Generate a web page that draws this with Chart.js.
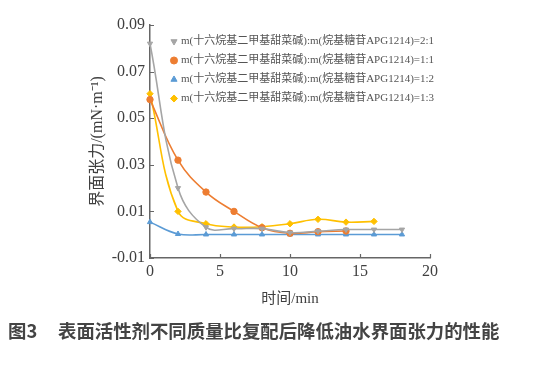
<!DOCTYPE html>
<html>
<head>
<meta charset="utf-8">
<script src="https://cdn.jsdelivr.net/npm/chart.js@4.4.1/dist/chart.umd.min.js"></script>
<style>
  html, body { margin: 0; padding: 0; background: #fff; }
  #wrap { position: relative; width: 533px; height: 368px; overflow: hidden; }
  #caption {
    position: absolute; left: 8px; top: 318px;
    font-family: 'Noto Sans CJK SC', sans-serif; font-size: 18.4px; font-weight: 700;
    color: #444; white-space: nowrap; line-height: 24px;
  }
  #caption .num { display: inline-block; width: 50px; }
</style>
</head>
<body>
<div id="wrap">
  <canvas id="c" width="533" height="368"></canvas>
  <div id="caption"><span class="num">图3</span>表面活性剂不同质量比复配后降低油水界面张力的性能</div>
</div>
<script>
// Sampling times (min)
const timeMin = [0, 2, 4, 6, 8, 10, 12, 14, 16, 18];

// Interfacial tension (mN·m⁻¹) for each mass ratio
const ratio21 = [0.082, 0.020, 0.0032, 0.0026, 0.0026, 0.0009, 0.0015, 0.0022, 0.0022, 0.0022];
const ratio11 = [0.058, 0.032, 0.0183, 0.0100, 0.0030, 0.0006, 0.0013, 0.0016];
const ratio12 = [0.0054, 0.0003, 0.0001, 0.0001, 0.0001, 0.0001, 0.0001, 0.0001, 0.0001, 0.0001];
const ratio13 = [0.0605, 0.0100, 0.0047, 0.0033, 0.0034, 0.0047, 0.0066, 0.0054, 0.0057];

const seriesNames = [
  'm(十六烷基二甲基甜菜碱):m(烷基糖苷APG1214)=2:1',
  'm(十六烷基二甲基甜菜碱):m(烷基糖苷APG1214)=1:1',
  'm(十六烷基二甲基甜菜碱):m(烷基糖苷APG1214)=1:2',
  'm(十六烷基二甲基甜菜碱):m(烷基糖苷APG1214)=1:3'
];

const xTicks = [0, 5, 10, 15, 20];
const yTicks = [-0.01, 0.01, 0.03, 0.05, 0.07, 0.09];

const serif = "'Liberation Serif', 'Noto Sans CJK SC', serif";
const textColor = '#404040';
const axisColor = '#666666';

function toPoints(values) {
  return values.map((v, i) => ({ x: timeMin[i], y: v }));
}

function series(label, values, color, style, rotation, radius) {
  return {
    label,
    data: toPoints(values),
    borderColor: color,
    backgroundColor: color,
    borderWidth: 1.6,
    pointStyle: style,
    pointRotation: rotation,
    pointRadius: radius,
    pointBorderWidth: 1,
    tension: 0.4,
    clip: false
  };
}

// Short tick marks pointing into the plot area
const innerTicks = {
  id: 'innerTicks',
  afterDatasetsDraw(chart) {
    const { ctx, chartArea, scales } = chart;
    ctx.save();
    ctx.strokeStyle = axisColor;
    ctx.lineWidth = 1.2;
    ctx.beginPath();
    yTicks.forEach(v => {
      const y = Math.round(scales.y.getPixelForValue(v)) + 0.5;
      ctx.moveTo(chartArea.left, y);
      ctx.lineTo(chartArea.left + 4, y);
    });
    xTicks.forEach(v => {
      const x = Math.round(scales.x.getPixelForValue(v)) + 0.5;
      ctx.moveTo(x, chartArea.bottom);
      ctx.lineTo(x, chartArea.bottom - 4);
    });
    ctx.stroke();
    ctx.restore();
  }
};

// Place the in-plot legend near the top-left corner and let it run past the plot's right edge
const legendOffset = {
  id: 'legendOffset',
  afterLayout(chart) {
    const lg = chart.legend;
    if (lg) {
      lg.left += 14.5;
      lg.top += 28;
      lg.right = chart.width;
      lg.bottom = chart.height;
      lg.width = lg.right - lg.left;
      lg.height = lg.bottom - lg.top;
    }
  }
};

new Chart(document.getElementById('c'), {
  type: 'line',
  data: {
    datasets: [
      series(seriesNames[0], ratio21, '#a5a5a5', 'triangle', 180, 3),
      series(seriesNames[1], ratio11, '#ed7d31', 'circle', 0, 3.2),
      series(seriesNames[2], ratio12, '#5b9bd5', 'triangle', 0, 3),
      series(seriesNames[3], ratio13, '#ffc000', 'rectRot', 0, 3.2)
    ]
  },
  options: {
    responsive: false,
    animation: false,
    devicePixelRatio: 1,
    layout: { padding: { left: 80, right: 103, top: 25, bottom: 58 } },
    plugins: {
      tooltip: { enabled: false },
      legend: {
        position: 'chartArea',
        align: 'start',
        labels: {
          usePointStyle: true,
          boxWidth: 3,
          boxHeight: 5,
          padding: 8,
          color: '#555555',
          font: { family: serif, size: 11 }
        }
      }
    },
    scales: {
      x: {
        type: 'linear',
        min: 0,
        max: 20,
        afterBuildTicks: s => { s.ticks = xTicks.map(v => ({ value: v })); },
        afterFit: s => { s.height = 52; },
        grid: { display: true, drawOnChartArea: false, drawTicks: false },
        border: { display: true, color: axisColor, width: 1.5 },
        ticks: { color: textColor, padding: 4, font: { family: serif, size: 16 } },
        title: {
          display: true,
          text: '时间/min',
          color: textColor,
          padding: { top: 0, bottom: 2 },
          font: { family: serif, size: 15 }
        }
      },
      y: {
        type: 'linear',
        min: -0.01,
        max: 0.09,
        afterBuildTicks: s => { s.ticks = yTicks.map(v => ({ value: v })); },
        afterFit: s => { s.width = 70; },
        grid: { display: true, drawOnChartArea: false, drawTicks: false },
        border: { display: true, color: axisColor, width: 1.5 },
        ticks: {
          color: textColor,
          padding: 5,
          font: { family: serif, size: 16 },
          callback: v => Number(v).toFixed(2)
        },
        title: {
          display: true,
          text: '界面张力/(mN·m⁻¹)',
          color: textColor,
          padding: { top: 8, bottom: 0 },
          font: { family: serif, size: 16 }
        }
      }
    }
  },
  plugins: [innerTicks, legendOffset]
});
</script>
</body>
</html>
